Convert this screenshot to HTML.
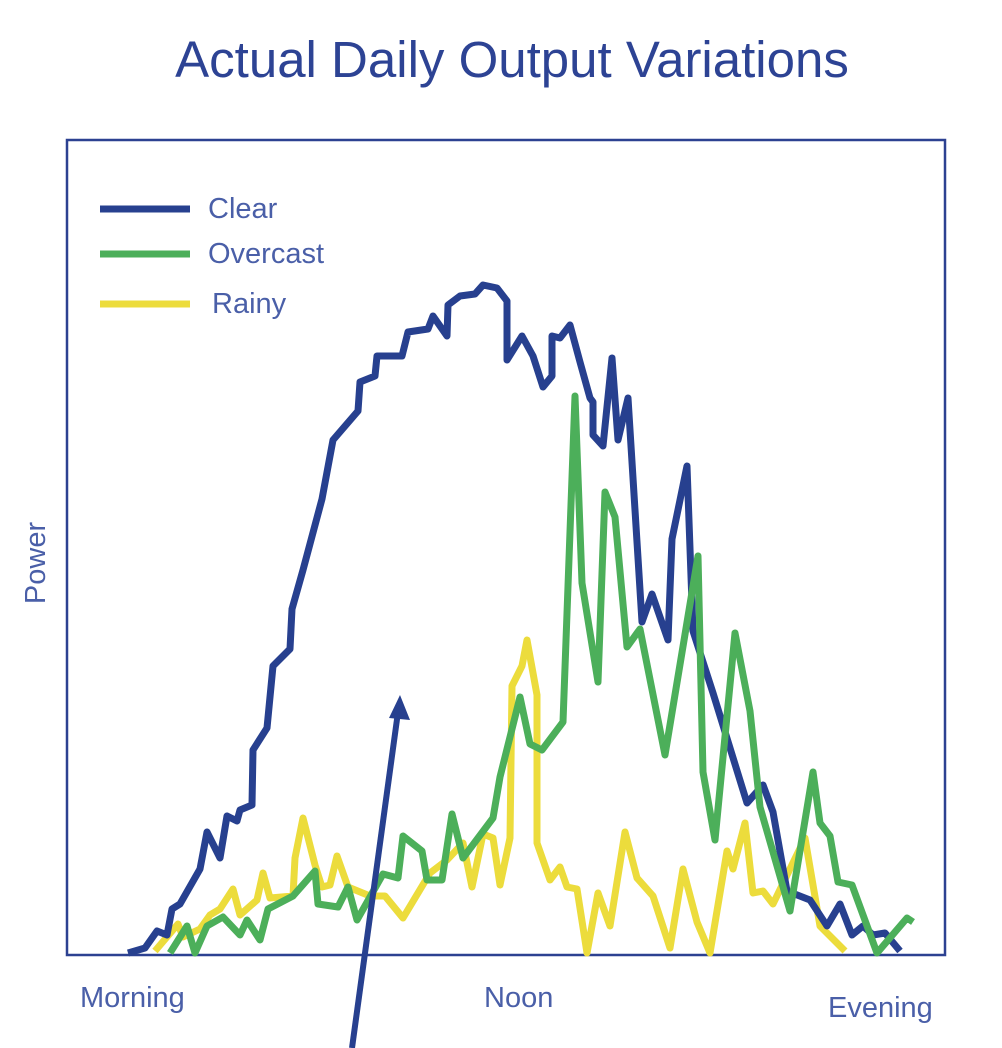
<!DOCTYPE html>
<html><head><meta charset="utf-8"><style>
html,body{margin:0;padding:0;background:#fff;}
svg{display:block;font-family:"Liberation Sans",sans-serif;}
</style></head><body>
<svg id="chart" width="1002" height="1048" viewBox="0 0 1002 1048">
<text x="512" y="77" text-anchor="middle" font-size="51" fill="#2d4394">Actual Daily Output Variations</text>
<rect x="67" y="140" width="878" height="815" fill="none" stroke="#2c4191" stroke-width="2.5"/>
<text transform="translate(45,563) rotate(-90)" text-anchor="middle" font-size="29" fill="#4a5fa8">Power</text>
<text x="80" y="1007" font-size="29" fill="#4a5fa8">Morning</text>
<text x="484" y="1007" font-size="29" fill="#4a5fa8">Noon</text>
<text x="828" y="1017" font-size="29" fill="#4a5fa8">Evening</text>
<g>
<line x1="100" y1="209" x2="190" y2="209" stroke="#27408f" stroke-width="7"/>
<text x="208" y="218" font-size="29" fill="#4a5fa8">Clear</text>
<line x1="100" y1="254" x2="190" y2="254" stroke="#4caf5a" stroke-width="7"/>
<text x="208" y="263" font-size="29" fill="#4a5fa8">Overcast</text>
<line x1="100" y1="304" x2="190" y2="304" stroke="#ecdc3c" stroke-width="7"/>
<text x="212" y="313" font-size="29" fill="#4a5fa8">Rainy</text>
</g>
<g id="series"></g>
<g>
<line x1="352" y1="1048" x2="398" y2="712" stroke="#27408f" stroke-width="6"/>
<polygon points="400,695 389,718 410,720" fill="#27408f"/>
</g>
</svg>
<script>
const clearT=[61,78,90,100,105,113,133,140,153,160,170,173,185,186,200,206,223,225,236,255,266,291,293,308,310,335,341,361,366,380,381,393,408,416,430,440,440,455,466,476,485,485,493,503,513,523,526,526,536,545,551,561,575,585,601,605,620,626,646,680,696,706,720,743,760,773,785,796,806,818,833];
const clearP=[2,7,24,20,46,51,86,123,97,139,134,145,150,205,227,289,306,346,385,456,515,544,573,579,599,599,623,626,639,619,650,659,661,670,667,654,595,619,599,568,579,619,617,630,593,557,553,520,509,597,515,557,333,361,315,416,489,324,262,152,170,143,64,55,29,51,20,29,20,22,4];
const overT=[103,120,128,140,156,173,180,193,201,226,248,251,271,281,290,316,331,336,355,360,375,385,396,426,433,453,463,475,496,508,515,531,538,548,560,573,598,631,636,648,668,683,693,723,746,753,763,771,785,810,840,846];
const overP=[2,29,2,29,38,20,35,15,46,59,84,51,48,68,35,81,77,119,104,75,75,141,97,137,178,258,211,205,233,559,372,273,463,438,308,326,200,399,183,115,322,244,148,44,183,132,119,73,70,2,37,33];
const rainT=[88,111,116,133,143,153,166,173,190,196,203,226,228,236,248,255,263,270,281,303,318,336,363,380,396,405,416,426,433,443,445,455,460,470,470,483,493,500,510,520,531,543,558,570,586,603,616,630,643,660,666,678,686,696,706,738,753,778];
const rainP=[4,31,18,26,40,46,66,40,55,82,57,59,97,137,90,68,70,99,68,59,59,37,82,95,112,68,121,117,70,117,269,289,315,260,112,75,88,68,66,2,62,29,123,77,59,7,86,33,2,104,86,132,62,64,51,117,29,4];
function xs(t){return 67+t*(878/878);}
function ys(p){return 955-p*(815/815);}
const g=document.getElementById('series');
function draw(T,P,color,name){
  const el=document.createElementNS('http://www.w3.org/2000/svg','polyline');
  el.setAttribute('points',T.map((t,i)=>xs(t)+','+ys(P[i])).join(' '));
  el.setAttribute('fill','none');el.setAttribute('stroke',color);
  el.setAttribute('stroke-width','7');el.setAttribute('stroke-linejoin','round');
  
  
  g.appendChild(el);
}
draw(rainT,rainP,'#ecdc3c','series-rainy');
draw(clearT,clearP,'#27408f','series-clear');
draw(overT,overP,'#4caf5a','series-overcast');
</script>
</body></html>
